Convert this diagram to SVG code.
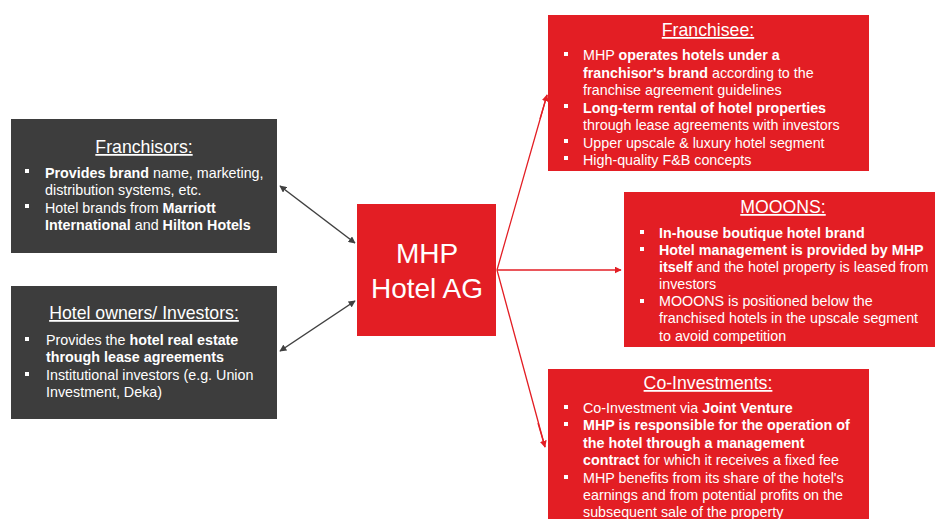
<svg xmlns="http://www.w3.org/2000/svg" width="935" height="519" viewBox="0 0 935 519">
<style>
text{font-family:"Liberation Sans",Arial,sans-serif;fill:#fff}
.t{font-size:17.7px;text-decoration:underline;text-anchor:middle}
.b{font-size:14.3px}
.bd{font-weight:bold}
.dk{fill:#3d3d3d}
.rd{fill:#e31e24}
.bl{fill:#fff}
.big{font-size:28px;text-anchor:middle}
</style>
<defs>
<marker id="ag" viewBox="0 0 10 10" refX="9" refY="5" markerWidth="7" markerHeight="7" orient="auto-start-reverse" markerUnits="userSpaceOnUse"><path d="M0,0 L10,5 L0,10 z" fill="#404040"/></marker>
<marker id="ar" viewBox="0 0 10 10" refX="9" refY="5" markerWidth="7" markerHeight="7" orient="auto" markerUnits="userSpaceOnUse"><path d="M0,0 L10,5 L0,10 z" fill="#e31e24"/></marker>
</defs>
<rect width="935" height="519" fill="#fff"/>
<g id="connectors">
<line x1="280" y1="186" x2="355" y2="243" stroke="#404040" stroke-width="1.5" marker-start="url(#ag)" marker-end="url(#ag)"/>
<line x1="280" y1="351" x2="355" y2="301" stroke="#404040" stroke-width="1.5" marker-start="url(#ag)" marker-end="url(#ag)"/>
<polyline points="547,95 497,270 545,447" fill="none" stroke="#e31e24" stroke-width="1.3"/>
<line x1="540" y1="119" x2="547" y2="95" stroke="#e31e24" stroke-width="1.3" marker-end="url(#ar)"/>
<line x1="538" y1="423" x2="545" y2="447" stroke="#e31e24" stroke-width="1.3" marker-end="url(#ar)"/>
<line x1="497" y1="270" x2="621" y2="270" stroke="#e31e24" stroke-width="1.3" marker-end="url(#ar)"/>
</g>
<g id="franchisors">
<rect class="dk" x="11" y="119" width="266" height="134"/>
<text class="t" x="144" y="153">Franchisors:</text>
<rect class="bl" x="25" y="169" width="4" height="4"/>
<rect class="bl" x="25" y="204" width="4" height="4"/>
<text class="b" x="45" y="178"><tspan class="bd">Provides brand</tspan> name, marketing,</text>
<text class="b" x="45" y="195">distribution systems, etc.</text>
<text class="b" x="45" y="213">Hotel brands from <tspan class="bd">Marriott</tspan></text>
<text class="b" x="45" y="230"><tspan class="bd">International</tspan> and <tspan class="bd">Hilton Hotels</tspan></text>
</g>
<g id="owners">
<rect class="dk" x="11" y="286" width="266" height="133"/>
<text class="t" x="144" y="319">Hotel owners/ Investors:</text>
<rect class="bl" x="25" y="337" width="4" height="4"/>
<rect class="bl" x="25" y="372" width="4" height="4"/>
<text class="b" x="46" y="345">Provides the <tspan class="bd">hotel real estate</tspan></text>
<text class="b" x="46" y="362" font-weight="bold">through lease agreements</text>
<text class="b" x="46" y="380">Institutional investors (e.g. Union</text>
<text class="b" x="46" y="397">Investment, Deka)</text>
</g>
<g id="mhp">
<rect class="rd" x="357" y="204" width="139" height="132"/>
<text class="big" x="427" y="263">MHP</text>
<text class="big" x="427" y="298">Hotel AG</text>
</g>
<g id="franchisee">
<rect class="rd" x="548" y="15" width="321" height="156"/>
<text class="t" x="708" y="36">Franchisee:</text>
<rect class="bl" x="564" y="52" width="4" height="4"/>
<rect class="bl" x="564" y="104" width="4" height="4"/>
<rect class="bl" x="564" y="139" width="4" height="4"/>
<rect class="bl" x="564" y="156" width="4" height="4"/>
<text class="b" x="583" y="60">MHP <tspan class="bd">operates hotels under a</tspan></text>
<text class="b" x="583" y="78"><tspan class="bd">franchisor's brand</tspan> according to the</text>
<text class="b" x="583" y="95">franchise agreement guidelines</text>
<text class="b bd" x="583" y="113">Long-term rental of hotel properties</text>
<text class="b" x="583" y="130">through lease agreements with investors</text>
<text class="b" x="583" y="148">Upper upscale &amp; luxury hotel segment</text>
<text class="b" x="583" y="165">High-quality F&amp;B concepts</text>
</g>
<g id="mooons">
<rect class="rd" x="624" y="192" width="311" height="155"/>
<text class="t" x="783" y="213">MOOONS:</text>
<rect class="bl" x="640" y="230" width="4" height="4"/>
<rect class="bl" x="640" y="247" width="4" height="4"/>
<rect class="bl" x="640" y="299" width="4" height="4"/>
<text class="b bd" x="659" y="238">In-house boutique hotel brand</text>
<text class="b bd" x="659" y="255">Hotel management is provided by MHP</text>
<text class="b" x="659" y="272"><tspan class="bd">itself</tspan> and the hotel property is leased from</text>
<text class="b" x="659" y="289">investors</text>
<text class="b" x="659" y="306">MOOONS is positioned below the</text>
<text class="b" x="659" y="323">franchised hotels in the upscale segment</text>
<text class="b" x="659" y="341">to avoid competition</text>
</g>
<g id="coinvest">
<rect class="rd" x="548" y="369" width="321" height="150"/>
<text class="t" x="708" y="389">Co-Investments:</text>
<rect class="bl" x="564" y="405" width="4" height="4"/>
<rect class="bl" x="564" y="422" width="4" height="4"/>
<rect class="bl" x="564" y="475" width="4" height="4"/>
<text class="b" x="583" y="413">Co-Investment via <tspan class="bd">Joint Venture</tspan></text>
<text class="b bd" x="583" y="430">MHP is responsible for the operation of</text>
<text class="b bd" x="583" y="448">the hotel through a management</text>
<text class="b" x="583" y="465"><tspan class="bd">contract</tspan> for which it receives a fixed fee</text>
<text class="b" x="583" y="483">MHP benefits from its share of the hotel's</text>
<text class="b" x="583" y="500">earnings and from potential profits on the</text>
<text class="b" x="583" y="517">subsequent sale of the property</text>
</g>
</svg>
